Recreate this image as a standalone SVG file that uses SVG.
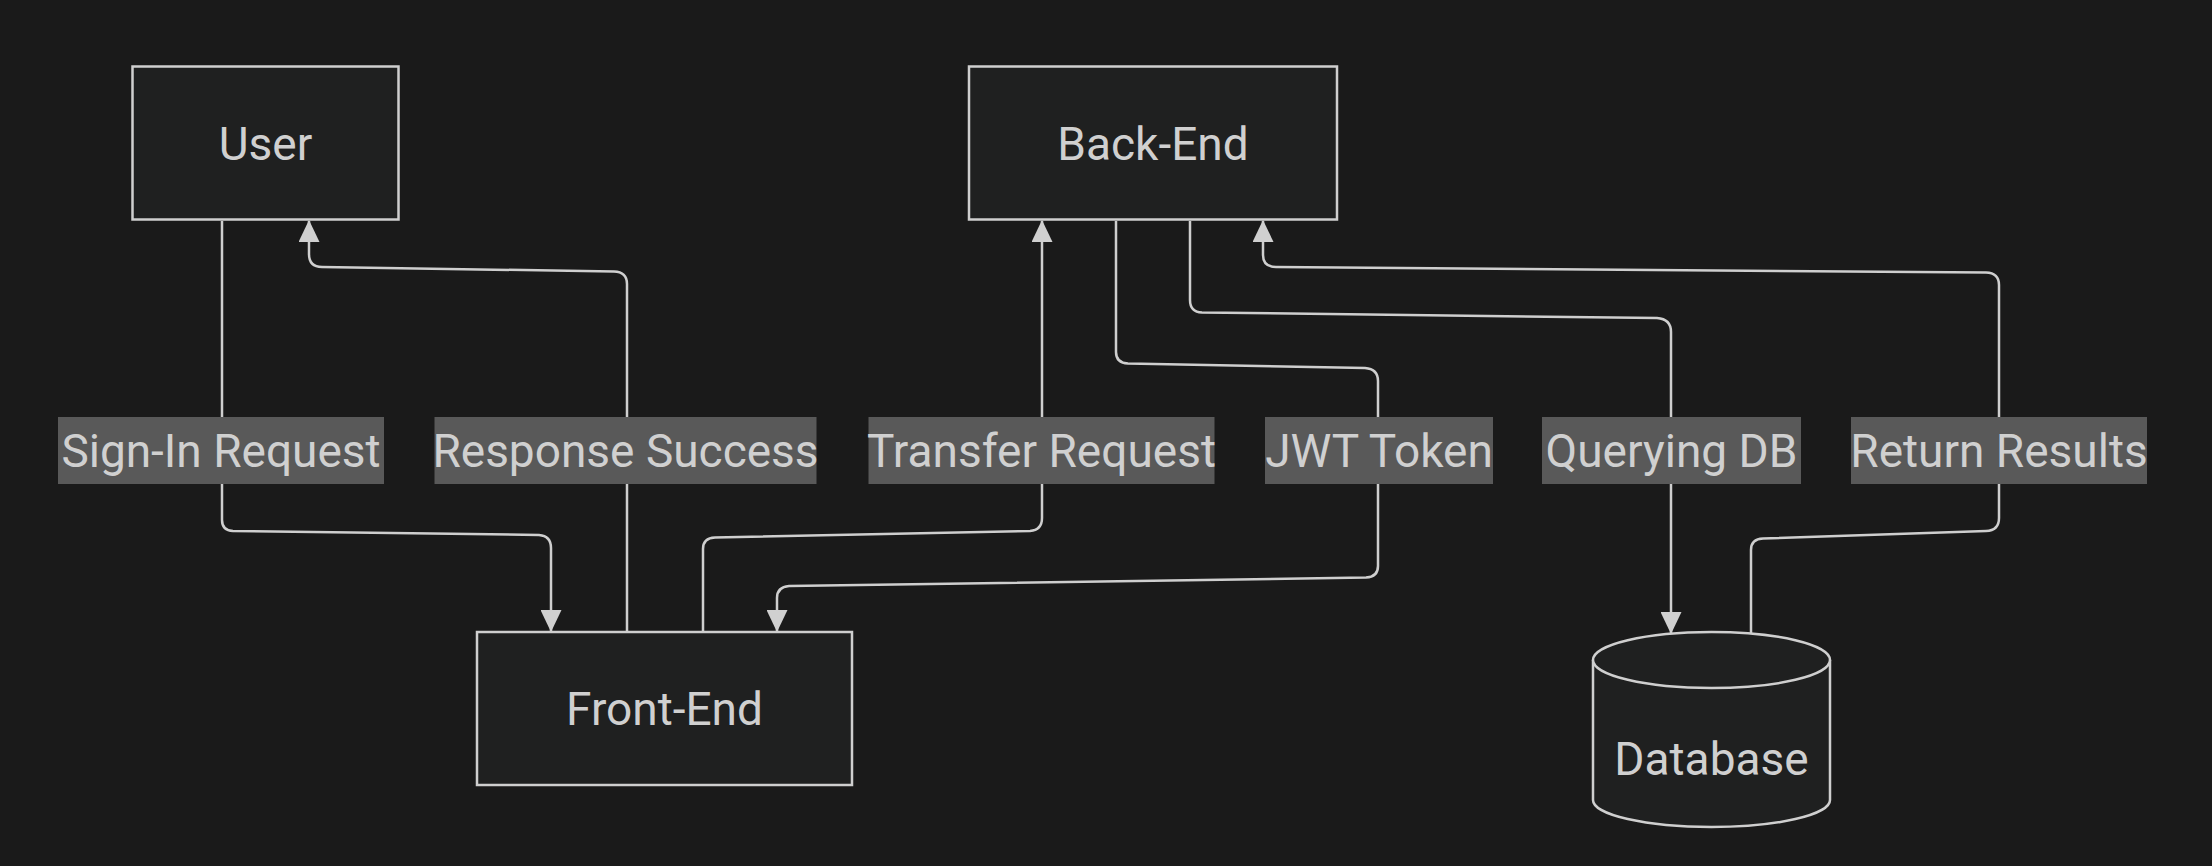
<svg xmlns="http://www.w3.org/2000/svg" width="2212" height="866" viewBox="0 0 2212 866">
<style>
.node rect,.node path,.node ellipse{fill:#1f2020;stroke:#cfcfcf;stroke-width:2.5}
.txt{font-family:Roboto,"Liberation Sans",Arial,sans-serif;font-size:46px;fill:#d0d0d0;text-anchor:middle}
.edge{fill:none;stroke:#cfcfcf;stroke-width:2.5}
.lbl rect{fill:#595959}
</style>
<defs>
<marker id="arr" viewBox="0 0 22 21" refX="21" refY="10.5" markerWidth="22" markerHeight="21" markerUnits="userSpaceOnUse" orient="auto">
<path d="M0,0 L22,10.5 L0,21 z" fill="#d0d0d0"/>
</marker>
</defs>
<rect x="0" y="0" width="2212" height="866" fill="#1a1a1a"/>
<g id="connectors">
<path class="edge" marker-end="url(#arr)" d="M222,221 L222,520 Q222,530.5 233,531 L539,535 Q551,536 551,548 L551,631"/>
<path class="edge" marker-end="url(#arr)" d="M627,632 L627,284 Q627,272 614,271.5 L322,267 Q309,267 309,254 L309,221"/>
<path class="edge" marker-end="url(#arr)" d="M703,632 L703,549 Q703,538 715,537.5 L1030,531 Q1042,530 1042,518 L1042,221"/>
<path class="edge" marker-end="url(#arr)" d="M1116,221 L1116,352 Q1116,363 1128,363.5 L1365,368 Q1378,369 1378,381 L1378,566 Q1378,577 1366,577.5 L789,586 Q777,587 777,598 L777,631"/>
<path class="edge" marker-end="url(#arr)" d="M1190,221 L1190,300 Q1190,312 1202,312.5 L1657,318 Q1671,319 1671,332 L1671,633"/>
<path class="edge" marker-end="url(#arr)" d="M1751,633 L1751,550 Q1751,539 1763,538.5 L1986,531 Q1999,530.5 1999,518 L1999,285 Q1999,273 1986,272.5 L1276,267 Q1263,267 1263,255 L1263,221"/>
</g>
<g id="edge-labels">
<g class="lbl" id="label-signin"><rect x="58" y="417" width="326" height="67"/><text class="txt" x="221" y="466.5">Sign-In Request</text></g>
<g class="lbl" id="label-response"><rect x="434.5" y="417" width="382" height="67"/><text class="txt" x="625.5" y="466.5">Response Success</text></g>
<g class="lbl" id="label-transfer"><rect x="868.5" y="417" width="346" height="67"/><text class="txt" x="1041.5" y="466.5">Transfer Request</text></g>
<g class="lbl" id="label-jwt"><rect x="1265" y="417" width="228" height="67"/><text class="txt" x="1379" y="466.5">JWT Token</text></g>
<g class="lbl" id="label-query"><rect x="1542" y="417" width="259" height="67"/><text class="txt" x="1671.5" y="466.5">Querying DB</text></g>
<g class="lbl" id="label-return"><rect x="1851" y="417" width="296" height="67"/><text class="txt" x="1999" y="466.5">Return Results</text></g>
</g>
<g class="node" id="user"><rect x="132.5" y="66.5" width="266" height="153"/><text class="txt" x="265.5" y="159.5">User</text></g>
<g class="node" id="backend"><rect x="969" y="66.5" width="368" height="153"/><text class="txt" x="1153" y="159.5">Back-End</text></g>
<g class="node" id="frontend"><rect x="477" y="632" width="375" height="153"/><text class="txt" x="664.5" y="724.5">Front-End</text></g>
<g class="node" id="database"><path d="M1593,660 A118.5,28 0 0 1 1830,660 L1830,800 A118.5,27 0 0 1 1593,800 Z"/><path d="M1593,660 A118.5,28 0 0 0 1830,660" fill="none"/><text class="txt" x="1711.5" y="775">Database</text></g>
</svg>
